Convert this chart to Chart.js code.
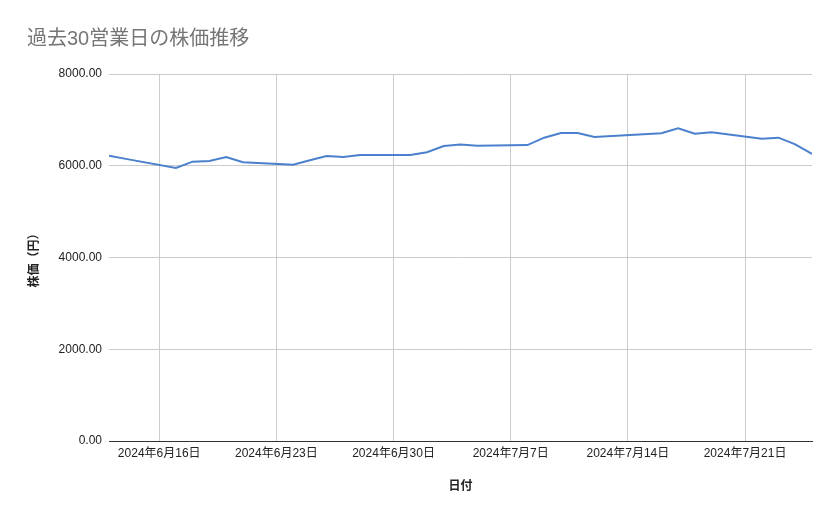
<!DOCTYPE html>
<html lang="ja">
<head>
<meta charset="utf-8">
<title>過去30営業日の株価推移</title>
<script src="https://cdn.jsdelivr.net/npm/chart.js@4.4.1/dist/chart.umd.min.js"></script>
<style>
    html, body { margin: 0; padding: 0; background: #ffffff; }
    #wrap { width: 839px; height: 519px; position: relative; }
</style>
</head>
<body>
<div id="wrap"><canvas id="priceChart"></canvas></div>
<script>
// 営業日 (7/15 海の日は休場)
const dates = [
    '2024-06-13', '2024-06-14', '2024-06-17', '2024-06-18', '2024-06-19',
    '2024-06-20', '2024-06-21', '2024-06-24', '2024-06-25', '2024-06-26',
    '2024-06-27', '2024-06-28', '2024-07-01', '2024-07-02', '2024-07-03',
    '2024-07-04', '2024-07-05', '2024-07-08', '2024-07-09', '2024-07-10',
    '2024-07-11', '2024-07-12', '2024-07-16', '2024-07-17', '2024-07-18',
    '2024-07-19', '2024-07-22', '2024-07-23', '2024-07-24', '2024-07-25'
];
const prices = [
    6219, 6150, 5951, 6089, 6104,
    6191, 6075, 6024, 6120, 6213,
    6191, 6235, 6235, 6293, 6431,
    6465, 6438, 6450, 6612, 6714,
    6714, 6627, 6707, 6816, 6700,
    6729, 6591, 6612, 6467, 6256
];
const tickDates = ['2024-06-16', '2024-06-23', '2024-06-30', '2024-07-07', '2024-07-14', '2024-07-21'];
const yTicks = [0, 2000, 4000, 6000, 8000];

function toDay(s) {
    const [y, m, d] = s.split('-').map(Number);
    return Date.UTC(y, m - 1, d) / 86400000;
}
function dayLabel(v) {
    const dt = new Date(v * 86400000);
    return dt.getUTCFullYear() + '年' + (dt.getUTCMonth() + 1) + '月' + dt.getUTCDate() + '日';
}

const points = dates.map((d, i) => ({ x: toDay(d), y: prices[i] }));
const fontFamily = "'Liberation Sans', Arial, 'Noto Sans CJK JP', sans-serif";

new Chart(document.getElementById('priceChart').getContext('2d'), {
    type: 'line',
    data: {
        datasets: [{
            label: '株価',
            data: points,
            borderColor: '#4a80cc',
            borderWidth: 2,
            pointRadius: 0,
            tension: 0,
            fill: false
        }]
    },
    options: {
        responsive: true,
        maintainAspectRatio: false,
        animation: false,
        layout: { padding: { left: 27, right: 27, top: 0, bottom: 0 } },
        plugins: {
            legend: { display: false },
            tooltip: { enabled: false },
            title: {
                display: true,
                text: '過去30営業日の株価推移',
                align: 'start',
                color: '#757575',
                font: { family: fontFamily, size: 20, weight: 'normal' },
                padding: { top: 27, bottom: 23 }
            }
        },
        scales: {
            x: {
                type: 'linear',
                min: toDay(dates[0]),
                max: toDay(dates[dates.length - 1]),
                afterBuildTicks: scale => {
                    scale.ticks = tickDates.map(d => ({ value: toDay(d) }));
                },
                afterFit: scale => { scale.height = 78; },
                ticks: {
                    callback: v => dayLabel(v),
                    color: '#222222',
                    font: { family: fontFamily, size: 12 },
                    padding: 5,
                    maxRotation: 0,
                    autoSkip: false
                },
                grid: { color: '#cccccc', drawTicks: false },
                border: { display: true, color: '#333333', width: 1 },
                title: {
                    display: true,
                    text: '日付',
                    color: '#222222',
                    font: { family: fontFamily, size: 12, weight: 'bold' },
                    padding: { top: 0, bottom: 25 }
                }
            },
            y: {
                min: 0,
                max: 8000,
                afterBuildTicks: scale => {
                    scale.ticks = yTicks.map(v => ({ value: v }));
                },
                afterFit: scale => { scale.width = 82; },
                ticks: {
                    callback: v => v.toFixed(2),
                    color: '#222222',
                    font: { family: fontFamily, size: 12 },
                    padding: 7
                },
                grid: {
                    color: ctx => ctx.tick && ctx.tick.value === 0 ? 'rgba(0,0,0,0)' : '#cccccc',
                    drawTicks: false
                },
                border: { display: false },
                title: {
                    display: true,
                    text: '株価（円）',
                    color: '#222222',
                    font: { family: fontFamily, size: 12, weight: 'bold' },
                    padding: { top: 0, bottom: 0 }
                }
            }
        }
    }
});
</script>
</body>
</html>
